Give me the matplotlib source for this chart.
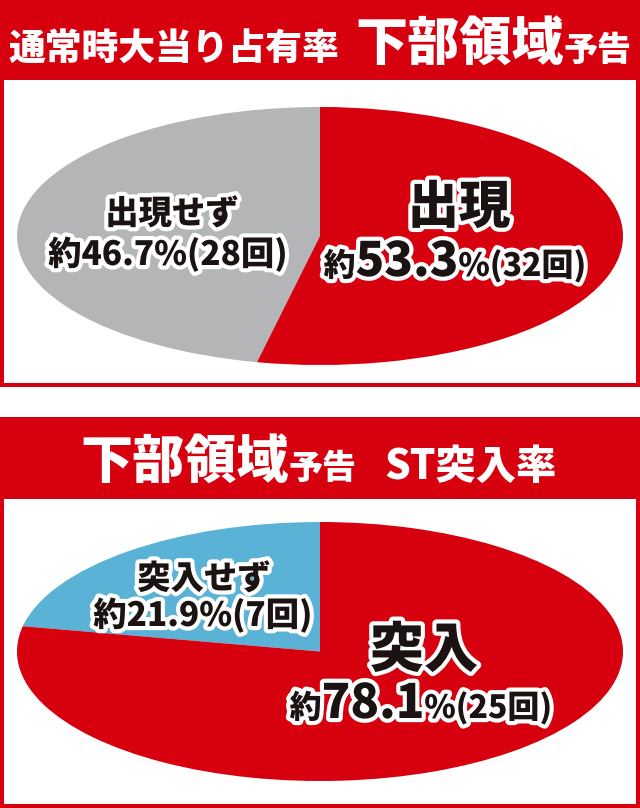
import matplotlib
matplotlib.use("Agg")
import matplotlib.pyplot as plt
import matplotlib.patches as mpatches
import matplotlib.patheffects as pe

plt.rcParams['font.family'] = ['Noto Sans CJK JP', 'DejaVu Sans']

### Data
top_names = ['出現せず', '出現']
top_counts = [28, 32]
top_pcts = ['46.7', '53.3']
top_colors = ['#B4B5B6', '#D6000F']

bot_names = ['突入せず', '突入']
bot_counts = [7, 25]
bot_pcts = ['21.9', '78.1']
bot_colors = ['#5AB3D6', '#D6000F']

RED = '#D6000F'
INK = '#1A1311'

fig = plt.figure(figsize=(6.4, 8.08), dpi=100)
fig.patch.set_facecolor('white')

# background / frames, pixel coordinates
bg = fig.add_axes([0, 0, 1, 1])
bg.set_xlim(0, 640)
bg.set_ylim(808, 0)
bg.axis('off')
bg.add_patch(mpatches.Rectangle((0, 0), 640, 387, color=RED, lw=0))
bg.add_patch(mpatches.Rectangle((4, 80), 632, 303, color='white', lw=0))
bg.add_patch(mpatches.Rectangle((0, 417), 640, 391, color=RED, lw=0))
bg.add_patch(mpatches.Rectangle((4, 499), 632, 305, color='white', lw=0))


def pie_at(left, top, right, bottom, counts, colors):
    ax = fig.add_axes([left / 640, 1 - bottom / 808, (right - left) / 640, (bottom - top) / 808])
    ax.pie(counts, colors=colors, startangle=90, counterclock=True,
           wedgeprops=dict(linewidth=0))
    ax.set_aspect('auto')
    ax.set_xlim(-1, 1)
    ax.set_ylim(-1, 1)
    ax.axis('off')
    return ax


pie_at(17, 107, 623, 365, top_counts, top_colors)
pie_at(17, 522, 623, 781, bot_counts, bot_colors)

# text overlay
tx = fig.add_axes([0, 0, 1, 1])
tx.set_xlim(0, 640)
tx.set_ylim(808, 0)
tx.axis('off')
tx.patch.set_alpha(0)

renderer = fig.canvas.get_renderer()


def runs(x, base, parts, color, stroke=False, align='center'):
    # parts: list of (text, fontsize); drawn side by side on one baseline
    items = []
    total = 0
    for s, size in parts:
        t = tx.text(0, base, s, fontsize=size, fontweight='heavy', color=color,
                    ha='left', va='baseline')
        if stroke:
            t.set_path_effects([pe.withStroke(linewidth=6, foreground='white')])
        w = t.get_window_extent(renderer).width
        items.append((t, w))
        total += w
    if align == 'center':
        x = x - total / 2
    for t, w in items:
        t.set_x(x)
        x += w


# headers
runs(8, 61, [('通常時大当り占有率', 26.5)], 'white', align='left')
runs(355, 61, [('下部領域', 37.5), ('予告', 24.5)], 'white', align='left')
runs(80, 479, [('下部領域', 37.5), ('予告', 24.5)], 'white', align='left')
runs(384, 479, [('ST突入率', 29)], 'white', align='left')

# top pie labels
runs(172, 224, [(top_names[0], 24)], INK, stroke=True)
runs(168, 265, [('約' + top_pcts[0] + '%(' + str(top_counts[0]) + '回)', 24)], INK, stroke=True)
runs(459, 223, [(top_names[1], 37)], INK, stroke=True)
runs(455, 276, [('約', 23), (top_pcts[1], 34), ('%(' + str(top_counts[1]) + '回)', 23)], INK, stroke=True)

# bottom pie labels
runs(204, 589, [(bot_names[0], 24)], INK, stroke=True)
runs(203, 626, [('約' + bot_pcts[0] + '%(' + str(bot_counts[0]) + '回)', 24)], INK, stroke=True)
runs(424, 667, [(bot_names[1], 39)], INK, stroke=True)
runs(421, 718, [('約', 23), (bot_pcts[1], 34), ('%(' + str(bot_counts[1]) + '回)', 23)], INK, stroke=True)

fig.savefig('out.png', dpi=100)
